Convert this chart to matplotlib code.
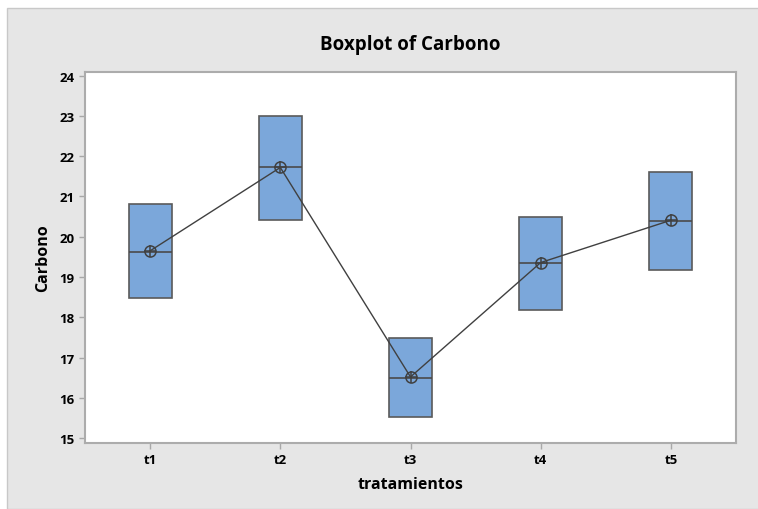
import matplotlib
matplotlib.use('Agg')
import matplotlib.pyplot as plt
from matplotlib.patches import Rectangle

# Data
groups = ['t1', 't2', 't3', 't4', 't5']
q1 = [18.48, 20.42, 15.52, 18.18, 19.17]
medians = [19.63, 21.73, 16.50, 19.35, 20.39]
q3 = [20.82, 23.00, 17.48, 20.49, 21.60]
means = [19.65, 21.72, 16.52, 19.36, 20.41]

plt.rcParams['font.family'] = ['Open Sans', 'DejaVu Sans']

fig = plt.figure(figsize=(7.58, 5.10), dpi=100)
fig.patch.set_facecolor('white')
# grey panel behind the chart
fig.patches.append(Rectangle((7 / 758, 0), 1, 1 - 9 / 510, transform=fig.transFigure,
                             facecolor='#e6e6e6', edgecolor='#c8c8c8', lw=1, zorder=-1))

ax = fig.add_axes([85 / 758, 1 - 444 / 510, (736 - 85) / 758, (444 - 73) / 510])
ax.set_facecolor('white')

stats = []
for g, a, m, b, mu in zip(groups, q1, medians, q3, means):
    stats.append({'label': g, 'q1': a, 'med': m, 'q3': b, 'mean': mu,
                  'whislo': a, 'whishi': b, 'fliers': []})

pos = list(range(1, len(groups) + 1))
ax.bxp(stats, positions=pos, widths=0.33, patch_artist=True, showcaps=False,
       showfliers=False,
       boxprops=dict(facecolor='#7ba7da', edgecolor='#5a5a5a', lw=1.2),
       medianprops=dict(color='#4a4a4a', lw=1.2),
       whiskerprops=dict(lw=0))

# connect the means
ax.plot(pos, means, color='#404040', lw=1, zorder=3)
ax.plot(pos, means, ls='none', marker='o', ms=8, mfc='none', mec='#404040', mew=1.1, zorder=4)
ax.plot(pos, means, ls='none', marker='+', ms=8, mec='#404040', mew=1.1, zorder=4)

ax.set_xlim(0.5, 5.5)
ax.set_ylim(14.88, 24.09)
ax.set_xticks(pos)
ax.set_xticklabels(groups)
ax.set_yticks(range(15, 25))

for s in ax.spines.values():
    s.set_color('#acacac')
    s.set_linewidth(1.5)
ax.tick_params(colors='#a8a8a8', labelcolor='black', length=4, width=1)
for lab in ax.get_xticklabels() + ax.get_yticklabels():
    lab.set_fontweight('bold')
    lab.set_fontsize(9.5)

ax.set_xlabel('tratamientos', fontsize=11.5, fontweight='bold', labelpad=7)
ax.set_ylabel('Carbono', fontsize=11.5, fontweight='bold', labelpad=6)
fig.text((85 + 736) / 2 / 758, 1 - 45 / 510, 'Boxplot of Carbono', ha='center', va='center',
         fontsize=13.5, fontweight='bold')

fig.savefig('out.png', dpi=100, facecolor=fig.get_facecolor())
